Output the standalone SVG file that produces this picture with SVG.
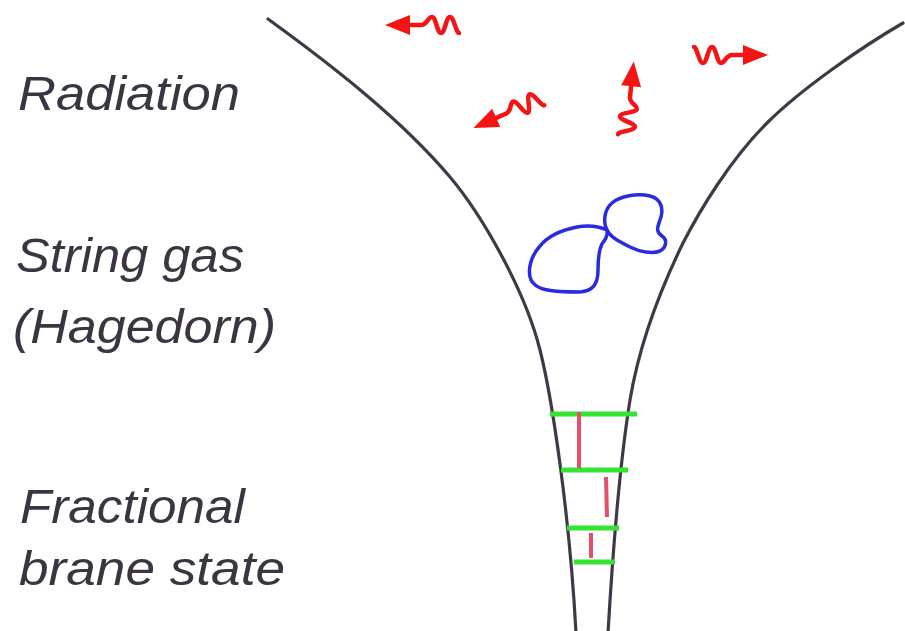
<svg xmlns="http://www.w3.org/2000/svg" width="905" height="631" viewBox="0 0 905 631">
  <defs>
    <!-- wavy photon arrow, pointing along +x, tip at x=74 -->
    <g id="photon">
      <path d="M0,-8 C3,-8 5,8 9,8 C13,8 14,-8 18,-8 C22,-8 23,8 27,8 C31,8 32,0 38,0 L52,0" fill="none" stroke="#f41414" stroke-width="4.5" stroke-linecap="round" stroke-linejoin="round"/>
      <polygon points="49,-10 74,0 49,10" fill="#f41414"/>
    </g>
  </defs>
  <style>
    .label { font-family: "Liberation Sans", Arial, sans-serif; font-style: italic; font-size: 48px; fill: #3b3542; }
    .wall { fill: none; stroke: #3d3a45; stroke-width: 3.2; stroke-linecap: round; }
    .loop { fill: none; stroke: #2a2ae0; stroke-width: 3.5; stroke-linejoin: round; }
    .brane { stroke: #33e433; stroke-width: 5; stroke-linecap: butt; }
    .tie { stroke: #e4506a; stroke-width: 4; stroke-linecap: butt; }
  </style>

  <rect width="905" height="631" fill="#ffffff"/>

  <!-- phase labels -->
  <g id="labels">
    <text class="label" x="18" y="110" textLength="222" lengthAdjust="spacingAndGlyphs">Radiation</text>
    <text class="label" x="16" y="272" textLength="228" lengthAdjust="spacingAndGlyphs">String gas</text>
    <text class="label" x="13" y="343" textLength="263" lengthAdjust="spacingAndGlyphs">(Hagedorn)</text>
    <text class="label" x="20" y="523" textLength="225" lengthAdjust="spacingAndGlyphs">Fractional</text>
    <text class="label" x="19" y="585" textLength="266" lengthAdjust="spacingAndGlyphs">brane state</text>
  </g>

  <!-- funnel walls -->
  <g id="walls">
    <path class="wall" d="M268,19 C330,64 400,118 450,177 C482,215 525,290 540,350 C553,402 570,520 576,633"/>
    <path class="wall" d="M903,23 C860,48 800,90 767,123 C730,160 700,210 683,243 C665,280 640,340 630,400 C622,450 614,530 608,633"/>
  </g>

  <!-- radiation: outgoing photons -->
  <g id="radiation">
    <use href="#photon" transform="translate(459,25) rotate(180)"/>
    <use href="#photon" transform="translate(541,98) rotate(156)"/>
    <use href="#photon" transform="translate(626,135) rotate(-84)"/>
    <use href="#photon" transform="translate(694,55)"/>
  </g>

  <!-- string gas: two closed string loops -->
  <g id="string-gas">
    <path class="loop" d="M607,230 C598,226 588,225 577,227 C562,230 548,236 540,246 C531,256 527,270 531,280 C536,290 550,292 580,292 C593,291 598,284 598,270 C598,258 599,250 602,244 C605,240 608,236 607,230 Z"/>
    <path class="loop" d="M607,230 C603,222 604,210 612,203 C620,196 637,193 650,196 C662,199 664,210 660,220 C657,228 656,232 662,236 C668,240 666,248 660,251 C652,254 640,252 630,247 C620,242 610,237 607,230 Z"/>
  </g>

  <!-- fractional branes with stretched strings -->
  <g id="fractional-branes">
    <line class="brane" x1="550" y1="414" x2="637" y2="414"/>
    <line class="brane" x1="561" y1="470" x2="628" y2="470"/>
    <line class="brane" x1="567" y1="528" x2="619" y2="528"/>
    <line class="brane" x1="574" y1="562" x2="615" y2="562"/>
    <line class="tie" x1="579" y1="412" x2="579" y2="468"/>
    <line class="tie" x1="606" y1="477" x2="607" y2="517"/>
    <line class="tie" x1="591" y1="533" x2="591" y2="558"/>
  </g>
</svg>
